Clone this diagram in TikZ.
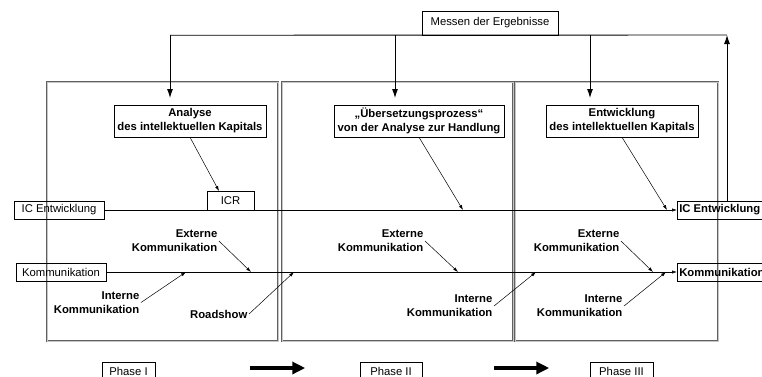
\documentclass[tikz,border=0pt]{standalone}
\usepackage{fontspec}
\setmainfont{Liberation Sans}
\usetikzlibrary{arrows.meta}
\newcommand\figfont{\fontsize{11.3}{14}\selectfont}

\begin{document}
\begin{tikzpicture}[x=1pt, y=-1pt,
    phasebox/.style={draw=gray!75!black, line width=0.6pt, double=gray!45,
      double distance=1pt, minimum height=259pt, inner sep=0pt},
    tagbox/.style={draw, line width=0.5pt, font=\figfont, minimum height=18pt, inner sep=2pt},
    outbox/.style={tagbox, font=\figfont\bfseries, anchor=west},
    headbox/.style={draw, line width=0.5pt, font=\figfont\bfseries, align=center,
      minimum height=32pt, inner sep=1pt},
    note/.style={font=\figfont\bfseries, align=right, anchor=east, inner sep=1.5pt},
    link/.style={line width=0.5pt, -{Latex[length=5pt,width=3.2pt]}},
    feed/.style={line width=0.9pt, -{Latex[length=9pt,width=6pt]}},
    bigarrow/.style={line width=3.5pt, -{Triangle[length=13pt,width=12pt]}}]
  \useasboundingbox (0,0) rectangle (762,376);
  \clip (0,0) rectangle (762,376);

  \node [phasebox, minimum width=231pt] (phaseA) at (162.5,211.5) {};
  \node [phasebox, minimum width=231pt] (phaseB) at (397.5,211.5) {};
  \node [phasebox, minimum width=203pt] (phaseC) at (616.5,211.5) {};

  \node [tagbox, minimum width=136pt, minimum height=24pt] (messen) at (490,23) {Messen der Ergebnisse};

  \node [headbox, minimum width=152pt] (analyse) at (190,121)
    {Analyse \\ des intellektuellen Kapitals};
  \node [headbox, minimum width=170pt] (uebers) at (419,121)
    {„Übersetzungsprozess“ \\ von der Analyse zur Handlung};
  \node [headbox, minimum width=152pt] (entw) at (622,121)
    {Entwicklung \\ des intellektuellen Kapitals};

  \node [tagbox, minimum width=47pt, minimum height=19pt] (icr) at (230.5,200.5) {ICR};
  \node [tagbox, minimum width=90pt] (icin) at (59,210) {IC Entwicklung};
  \node [tagbox, minimum width=90pt] (kommin) at (61,272) {Kommunikation};
  \node [outbox] (icout) at (677,210) {IC Entwicklung};
  \node [outbox] (kommout) at (677,272) {Kommunikation};

  \node [note] (extA) at (219,241) {Externe \\ Kommunikation};
  \node [note] (intA) at (141,302.5) {Interne \\ Kommunikation};
  \node [note] (road) at (249,314) {Roadshow};
  \node [note] (extB) at (425,241) {Externe \\ Kommunikation};
  \node [note] (intB) at (494,306) {Interne \\ Kommunikation};
  \node [note] (extC) at (621,241) {Externe \\ Kommunikation};
  \node [note] (intC) at (624,306) {Interne \\ Kommunikation};

  \node [tagbox, minimum width=53pt] (phaseI) at (128.5,371) {Phase I};
  \node [tagbox, minimum width=62pt] (phaseII) at (391,371) {Phase II};
  \node [tagbox, minimum width=63pt] (phaseIII) at (621.5,371) {Phase III};

  \coordinate (downA) at (170,98);
  \coordinate (downB) at (395,98);
  \coordinate (downC) at (590,98);
  \coordinate (back) at (727,35);
  \coordinate (icrtop) at (219,191);
  \coordinate (icB) at (463,210);
  \coordinate (icC) at (667,210);
  \coordinate (extAend) at (251,272);
  \coordinate (intAend) at (186,272);
  \coordinate (roadend) at (294,272);
  \coordinate (extBend) at (458,272);
  \coordinate (intBend) at (536,272);
  \coordinate (extCend) at (653,272);
  \coordinate (intCend) at (666,272);

  \draw [line width=0.9pt] (messen.south -| downA) -- (back);
  \draw [feed] (messen.south -| downA) -- (downA);
  \draw [feed] (messen.south -| downB) -- (downB);
  \draw [feed] (messen.south -| downC) -- (downC);
  \draw [feed] (icout.north -| back) -- (back);

  \draw [link] (icin) -- (icout);
  \draw [link] (kommin) -- (kommout);
  \draw [link] (analyse.south) -- (icrtop);
  \draw [link] (uebers.south) -- (icB);
  \draw [link] (entw.south) -- (icC);

  \draw [link] (extA.east) -- (extAend);
  \draw [link] (intA.east) -- (intAend);
  \draw [link] (road.east) -- (roadend);
  \draw [link] (extB.east) -- (extBend);
  \draw [link] (intB.east) -- (intBend);
  \draw [link] (extC.east) -- (extCend);
  \draw [link] (intC.east) -- (intCend);

  \draw [bigarrow] (phaseI.east) ++(95,-3) coordinate (arrA) -- ++(55,0);
  \draw [bigarrow] (phaseII.east) ++(72,-3) coordinate (arrB) -- ++(55,0);
\end{tikzpicture}
\end{document}
